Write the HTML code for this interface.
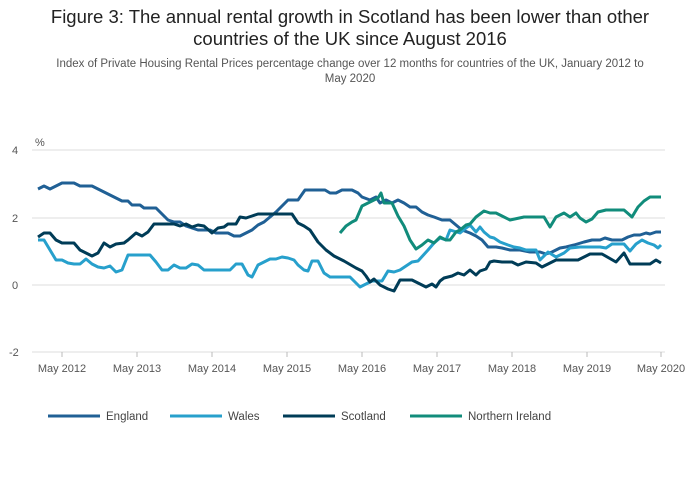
<!DOCTYPE html>
<html><head><meta charset="utf-8"><style>
body{margin:0;background:#fff;font-family:"Liberation Sans",sans-serif;}
.t{position:absolute;left:0;width:700px;text-align:center;}
</style></head><body>
<div class="t" style="top:6px;font-size:18.5px;line-height:22px;color:#222">Figure 3: The annual rental growth in Scotland has been lower than other<br>countries of the UK since August 2016</div>
<div class="t" style="top:57px;font-size:11.5px;line-height:15px;color:#555">Index of Private Housing Rental Prices percentage change over 12 months for countries of the UK, January 2012 to<br>May 2020</div>
<svg width="700" height="502" style="position:absolute;left:0;top:0" font-family="Liberation Sans,sans-serif" font-size="11" fill="#555">
<g stroke="#ddd" stroke-width="1">
<line x1="32" x2="665" y1="150" y2="150"/><line x1="32" x2="665" y1="218" y2="218"/><line x1="32" x2="665" y1="285" y2="285"/><line x1="32" x2="665" y1="352" y2="352"/>
</g>
<text x="35" y="146">%</text>
<text x="12" y="154">4</text><text x="12" y="222">2</text><text x="12" y="289">0</text><text x="9" y="356">-2</text>
<g stroke="#bbb"><line x1="62" x2="62" y1="352" y2="357"/><line x1="137" x2="137" y1="352" y2="357"/><line x1="212" x2="212" y1="352" y2="357"/><line x1="287" x2="287" y1="352" y2="357"/><line x1="362" x2="362" y1="352" y2="357"/><line x1="437" x2="437" y1="352" y2="357"/><line x1="512" x2="512" y1="352" y2="357"/><line x1="587" x2="587" y1="352" y2="357"/><line x1="661" x2="661" y1="352" y2="357"/></g>
<g text-anchor="middle"><text x="62" y="372">May 2012</text><text x="137" y="372">May 2013</text><text x="212" y="372">May 2014</text><text x="287" y="372">May 2015</text><text x="362" y="372">May 2016</text><text x="437" y="372">May 2017</text><text x="512" y="372">May 2018</text><text x="587" y="372">May 2019</text><text x="661" y="372">May 2020</text></g>
<g fill="none" stroke-width="3" stroke-linejoin="round">
<polyline stroke="#206095" points="38,189 44,186 50,189 56,186 62,183 74,183 80,186 92,186 98,189 104,192 110,195 116,198 122,201 128,201 132,205 140,205 144,208 156,208 162,214 168,220 174,222 180,222 186,226 192,228 198,230 210,230 216,233 228,233 234,236 240,236 246,233 252,230 258,225 264,222 270,217 276,212 282,206 288,200 298,200 305,190 325,190 330,193 336,193 342,190 352,190 358,193 362,197 370,200 376,197 380,203 386,200 392,203 398,200 404,203 410,207 416,207 422,212 428,215 434,217 442,220 450,220 456,225 462,230 470,233 476,236 482,240 488,247 496,247 502,248 510,250 520,250 530,252 540,252 546,254 552,252 560,248 566,247 574,245 584,242 592,240 600,240 605,238 612,240 622,240 628,237 634,235 640,235 646,233 650,234 656,232 661,232"/>
<polyline stroke="#27a0cc" points="38,240 44,240 50,250 56,260 62,260 68,263 74,264 80,264 86,259 92,264 98,267 104,268 110,266 116,272 122,270 128,255 150,255 156,262 162,270 168,270 174,265 180,268 186,268 192,264 198,265 204,270 230,270 236,264 242,264 248,275 252,277 258,265 264,262 270,259 276,259 282,257 288,258 294,260 298,265 304,270 308,271 312,261 318,261 324,273 330,277 342,277 350,277 356,283 360,287 366,284 372,281 382,281 388,271 394,272 400,270 406,266 412,262 418,261 428,250 434,243 440,238 446,240 450,230 460,233 466,228 470,225 476,232 480,227 484,232 490,237 494,238 500,242 508,245 514,247 520,248 526,250 536,250 540,260 548,252 556,257 564,253 570,248 580,247 600,247 606,248 612,244 624,244 630,251 636,244 642,240 648,243 654,245 658,248 661,245"/>
<polyline stroke="#003c57" points="38,237 44,233 50,233 56,240 62,243 74,243 80,250 86,253 92,256 98,253 104,243 110,247 116,244 124,243 128,240 136,233 142,236 148,232 154,224 174,224 180,226 186,224 192,227 198,225 204,226 212,233 218,228 224,227 228,224 236,224 240,217 246,218 252,216 258,214 292,214 298,223 304,226 310,230 318,242 326,250 334,256 344,261 356,268 362,271 366,276 370,282 374,279 380,285 388,289 394,291 400,280 412,280 420,284 426,287 432,284 436,287 440,281 444,278 452,276 458,273 464,275 470,270 476,275 480,271 486,269 490,262 494,261 502,262 512,262 518,265 526,262 536,263 542,267 546,265 556,260 578,260 590,254 602,254 616,262 624,253 630,264 650,264 656,260 661,263"/>
<polyline stroke="#118c7b" points="340,233 346,226 352,222 356,220 362,206 370,202 378,198 381,193 384,203 392,203 398,216 404,226 410,240 416,249 422,245 428,240 434,243 440,237 446,240 450,240 456,232 460,230 466,225 470,224 476,217 484,211 490,213 496,213 502,216 510,220 524,217 544,217 550,227 556,217 564,213 570,217 576,213 580,218 586,222 592,219 598,212 606,210 624,210 632,217 638,207 644,201 650,197 661,197"/>
<g stroke-width="3">
<line x1="48" x2="100" y1="416" y2="416" stroke="#206095"/>
<line x1="170" x2="222" y1="416" y2="416" stroke="#27a0cc"/>
<line x1="283" x2="335" y1="416" y2="416" stroke="#003c57"/>
<line x1="410" x2="462" y1="416" y2="416" stroke="#118c7b"/>
</g></g>
<g font-size="11.5" fill="#444"><text x="106" y="420">England</text><text x="228" y="420">Wales</text><text x="341" y="420">Scotland</text><text x="468" y="420">Northern Ireland</text></g>
</svg>
</body></html>
